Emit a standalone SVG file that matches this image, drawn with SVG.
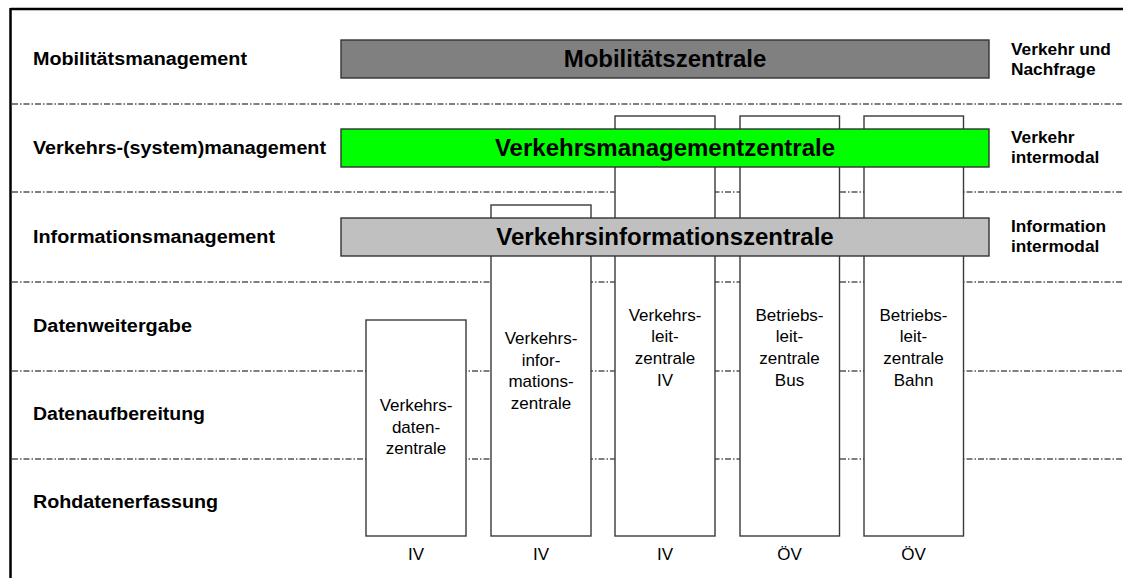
<svg xmlns="http://www.w3.org/2000/svg" width="1123" height="578" viewBox="0 0 1123 578">
<style>
.sep{stroke:#000;stroke-width:1;stroke-dasharray:6 2 1.5 2;fill:none}
.col{fill:#fff;stroke:#3a3a3a;stroke-width:1.4}
.band{stroke:#333;stroke-width:1.4}
.lbl{font-family:"Liberation Sans",Arial,sans-serif;font-weight:bold;font-size:18px;fill:#000}
.rlbl{font-family:"Liberation Sans",Arial,sans-serif;font-weight:bold;font-size:17.3px;fill:#000}
.title{font-family:"Liberation Sans",Arial,sans-serif;font-weight:bold;font-size:24px;fill:#000;text-anchor:middle}
.ct{font-family:"Liberation Sans",Arial,sans-serif;font-size:17px;fill:#000;text-anchor:middle}
</style>
<rect x="0" y="0" width="1123" height="578" fill="#fff"/>
<g id="frame" fill="none" stroke="#000" stroke-width="2.5">
<line x1="10.5" y1="9" x2="1123" y2="9"/>
<line x1="10.5" y1="8" x2="10.5" y2="578"/>
</g>
<g id="connectors">
<line class="sep" x1="12" y1="104" x2="1123" y2="104"/>
<line class="sep" x1="12" y1="192" x2="1123" y2="192"/>
<line class="sep" x1="12" y1="282" x2="1123" y2="282"/>
<line class="sep" x1="12" y1="371" x2="1123" y2="371"/>
<line class="sep" x1="12" y1="459" x2="1123" y2="459"/>
</g>
<g id="col-verkehrsdatenzentrale">
<rect class="col" x="366" y="320" width="100" height="216"/>
<text class="ct" x="416"><tspan x="416" y="411">Verkehrs-</tspan><tspan x="416" y="432.7">daten-</tspan><tspan x="416" y="454.4">zentrale</tspan></text>
<text class="ct" x="416" y="560">IV</text>
</g>
<g id="col-verkehrsinformationszentrale">
<rect class="col" x="491" y="205" width="100" height="331"/>
<text class="ct"><tspan x="541" y="344">Verkehrs-</tspan><tspan x="541" y="365.7">infor-</tspan><tspan x="541" y="387.4">mations-</tspan><tspan x="541" y="409.1">zentrale</tspan></text>
<text class="ct" x="541" y="560">IV</text>
</g>
<g id="col-verkehrsleitzentrale">
<rect class="col" x="615" y="116" width="100" height="420"/>
<text class="ct"><tspan x="665" y="320.7">Verkehrs-</tspan><tspan x="665" y="342.4">leit-</tspan><tspan x="665" y="364.1">zentrale</tspan><tspan x="665" y="385.8">IV</tspan></text>
<text class="ct" x="665" y="560">IV</text>
</g>
<g id="col-betriebsleitzentrale-bus">
<rect class="col" x="740" y="116" width="99.5" height="420"/>
<text class="ct"><tspan x="789.5" y="320.7">Betriebs-</tspan><tspan x="789.5" y="342.4">leit-</tspan><tspan x="789.5" y="364.1">zentrale</tspan><tspan x="789.5" y="385.8">Bus</tspan></text>
<text class="ct" x="789.5" y="560">ÖV</text>
</g>
<g id="col-betriebsleitzentrale-bahn">
<rect class="col" x="864" y="116" width="99.5" height="420"/>
<text class="ct"><tspan x="913.5" y="320.7">Betriebs-</tspan><tspan x="913.5" y="342.4">leit-</tspan><tspan x="913.5" y="364.1">zentrale</tspan><tspan x="913.5" y="385.8">Bahn</tspan></text>
<text class="ct" x="913.5" y="560">ÖV</text>
</g>
<g id="band-mobilitaetszentrale">
<rect class="band" x="341" y="40" width="648" height="38" fill="#808080"/>
<text class="title" x="665" y="67">Mobilitätszentrale</text>
</g>
<g id="band-verkehrsmanagementzentrale">
<rect class="band" x="341" y="129" width="648" height="38" fill="#00ff00"/>
<text class="title" x="665" y="156">Verkehrsmanagementzentrale</text>
</g>
<g id="band-verkehrsinformationszentrale">
<rect class="band" x="341" y="218" width="648" height="38" fill="#c0c0c0"/>
<text class="title" x="665" y="245">Verkehrsinformationszentrale</text>
</g>
<g id="left-labels">
<text class="lbl" x="33" y="65" textLength="214" lengthAdjust="spacingAndGlyphs">Mobilitätsmanagement</text>
<text class="lbl" x="33" y="154" textLength="293" lengthAdjust="spacingAndGlyphs">Verkehrs-(system)management</text>
<text class="lbl" x="33" y="243" textLength="242" lengthAdjust="spacingAndGlyphs">Informationsmanagement</text>
<text class="lbl" x="33" y="332" textLength="159" lengthAdjust="spacingAndGlyphs">Datenweitergabe</text>
<text class="lbl" x="33" y="420" textLength="172" lengthAdjust="spacingAndGlyphs">Datenaufbereitung</text>
<text class="lbl" x="33" y="508" textLength="185" lengthAdjust="spacingAndGlyphs">Rohdatenerfassung</text>
</g>
<g id="right-labels">
<text class="rlbl"><tspan x="1011" y="54.5">Verkehr und</tspan><tspan x="1011" y="74.5">Nachfrage</tspan></text>
<text class="rlbl"><tspan x="1011" y="143">Verkehr</tspan><tspan x="1011" y="163">intermodal</tspan></text>
<text class="rlbl"><tspan x="1011" y="232">Information</tspan><tspan x="1011" y="252">intermodal</tspan></text>
</g>
</svg>
